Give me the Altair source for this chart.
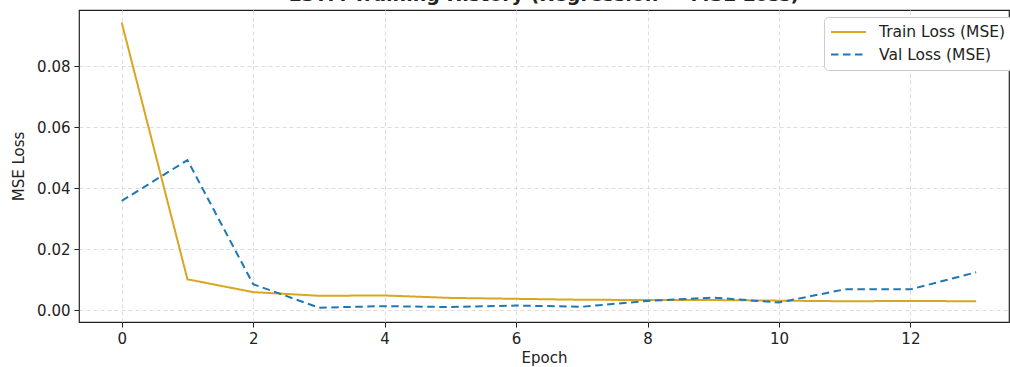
import altair as alt
import pandas as pd

epochs = list(range(14))
train_loss = [0.0943, 0.0101, 0.0059, 0.0047, 0.0048, 0.0040, 0.0037, 0.0034,
              0.0033, 0.0033, 0.0031, 0.0029, 0.0030, 0.0029]
val_loss = [0.0358, 0.0492, 0.0085, 0.0008, 0.0013, 0.0010, 0.0015, 0.0011,
            0.0030, 0.0041, 0.0025, 0.0068, 0.0068, 0.0124]
series_names = ["Train Loss (MSE)", "Val Loss (MSE)"]
series_colors = ["#DAA520", "#1f77b4"]

rows = []
for e, t, v in zip(epochs, train_loss, val_loss):
    rows.append({"Epoch": e, "Loss": t, "Series": series_names[0]})
    rows.append({"Epoch": e, "Loss": v, "Series": series_names[1]})
df = pd.DataFrame(rows)

font = "DejaVu Sans"

chart = alt.Chart(df).mark_line(strokeWidth=2).encode(
    x=alt.X("Epoch:Q",
            scale=alt.Scale(domain=[-0.65, 13.5], nice=False, zero=False),
            axis=alt.Axis(values=[0, 2, 4, 6, 8, 10, 12], format="d",
                          title="Epoch", titlePadding=4)),
    y=alt.Y("Loss:Q",
            scale=alt.Scale(domain=[-0.0039, 0.0984], nice=False, zero=False),
            axis=alt.Axis(values=[0, 0.02, 0.04, 0.06, 0.08], format=".2f",
                          title="MSE Loss", titlePadding=10)),
    color=alt.Color("Series:N",
                    scale=alt.Scale(domain=series_names, range=series_colors),
                    legend=alt.Legend(title=None, orient="none", legendX=745, legendY=7,
                                      symbolType="stroke", symbolSize=1225,
                                      symbolStrokeWidth=2, labelFontSize=15.5,
                                      labelFont=font, labelColor="#222",
                                      clipHeight=18, rowPadding=4.6, padding=6,
                                      strokeColor="#cccccc", fillColor="white",
                                      cornerRadius=4, labelOffset=12)),
    strokeDash=alt.StrokeDash("Series:N",
                              scale=alt.Scale(domain=series_names,
                                              range=[[1, 0], [7.5, 4.5]]),
                              legend=None),
).properties(
    width=930,
    height=312,
    title=alt.TitleParams("LSTM Training History (Regression — MSE Loss)",
                          font=font, fontSize=19, fontWeight="bold",
                          color="#222", offset=0, baseline="alphabetic", dy=10),
    autosize=alt.AutoSizeParams(type="none"),
    padding={"left": 79, "top": 10, "right": 1, "bottom": 45},
).configure_view(
    stroke="#222", strokeWidth=1.2
).configure_axis(
    labelFont=font, titleFont=font, labelFontSize=15, titleFontSize=15,
    labelColor="#222", titleColor="#222", titleFontWeight="normal",
    grid=True, gridColor="#dddddd", gridDash=[4, 3], gridWidth=1,
    domain=False, tickColor="#222", tickSize=5, tickWidth=1, labelPadding=4,
)

chart.save("out.html", embed_options={"renderer": "svg", "actions": False})
